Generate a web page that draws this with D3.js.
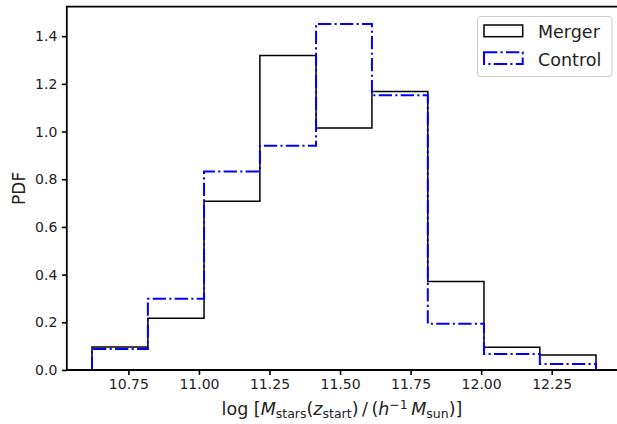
<!DOCTYPE html>
<html>
<head>
<meta charset="utf-8">
<script src="https://cdn.jsdelivr.net/npm/d3@7"></script>
<style>
html,body{margin:0;padding:0;background:#fff;}
svg{display:block;font-family:"DejaVu Sans",sans-serif;}
</style>
</head>
<body>
<svg id="chart" width="617" height="424"></svg>
<script>
const binEdges = [10.621, 10.819, 11.018, 11.216, 11.415, 11.613, 11.811, 12.010, 12.208, 12.407];
const mergerPDF = [0.0966, 0.217, 0.708, 1.319, 1.015, 1.168, 0.371, 0.095, 0.063];
const controlPDF = [0.088, 0.299, 0.832, 0.940, 1.451, 1.152, 0.194, 0.067, 0.025];
const xTicks = [10.75, 11.00, 11.25, 11.50, 11.75, 12.00, 12.25];
const yTicks = [0.0, 0.2, 0.4, 0.6, 0.8, 1.0, 1.2, 1.4];
const seriesNames = ["Merger", "Control"];

const svg = d3.select("#chart");
const L = 66.8, R = 621.2, T = 6.7, B = 370;
const xr = binEdges[binEdges.length-1] - binEdges[0];
const x = d3.scaleLinear().domain([binEdges[0] - 0.05*xr, binEdges[binEdges.length-1] + 0.05*xr]).range([L, R]);
const ymax = Math.max(d3.max(mergerPDF), d3.max(controlPDF)) * 1.05;
const y = d3.scaleLinear().domain([0, ymax]).range([B, T]);

function stepPath(vals) {
  const p = d3.path();
  p.moveTo(x(binEdges[0]), y(0));
  vals.forEach((v, i) => {
    p.lineTo(x(binEdges[i]), y(v));
    p.lineTo(x(binEdges[i+1]), y(v));
  });
  p.lineTo(x(binEdges[binEdges.length-1]), y(0));
  return p.toString();
}

const dash = "13.3,3.3,2.1,3.3";

const plot = svg.append("g");
plot.append("path").attr("d", stepPath(mergerPDF))
  .attr("fill", "none").attr("stroke", "#000").attr("stroke-width", 1.5);
plot.append("path").attr("d", stepPath(controlPDF))
  .attr("fill", "none").attr("stroke", "#0000ff").attr("stroke-width", 2)
  .attr("stroke-dasharray", dash);

// axes
const xAxis = d3.axisBottom(x).tickValues(xTicks).tickFormat(d3.format(".2f")).tickSizeOuter(0).tickSize(4.9).tickPadding(4.6);
const yAxis = d3.axisLeft(y).tickValues(yTicks).tickFormat(d3.format(".1f")).tickSizeOuter(0).tickSize(4.9).tickPadding(4.6);

const gx = svg.append("g").attr("transform", `translate(0,${B})`).call(xAxis);
const gy = svg.append("g").attr("transform", `translate(${L},0)`).call(yAxis);
[gx, gy].forEach(g => {
  g.attr("font-size", null).attr("font-family", null);
  g.select(".domain").remove();
  g.selectAll(".tick line").attr("stroke", "#000").attr("stroke-width", 1.6);
  g.selectAll(".tick text").attr("fill", "#222").style("font-size", "14px").style("font-family", "DejaVu Sans");
});

// spines
svg.append("line").attr("x1", L).attr("x2", L).attr("y1", T).attr("y2", B).attr("stroke", "#000").attr("stroke-width", 1.8);
svg.append("line").attr("x1", L-0.9).attr("x2", R).attr("y1", B).attr("y2", B).attr("stroke", "#000").attr("stroke-width", 1.8);
svg.append("line").attr("x1", L-0.9).attr("x2", R).attr("y1", T).attr("y2", T).attr("stroke", "#000").attr("stroke-width", 1.8);
svg.append("line").attr("x1", R).attr("x2", R).attr("y1", T).attr("y2", B).attr("stroke", "#000").attr("stroke-width", 1.8);

// y label
svg.append("text").attr("transform", `translate(24.5,${(T+B)/2}) rotate(-90)`)
  .attr("text-anchor", "middle").style("font-size", "17px").attr("fill", "#222").text("PDF");

// x label
const xl = svg.append("text").attr("x", (L+R)/2 - 2).attr("y", 415).attr("text-anchor", "middle")
  .style("font-size", "17.5px").attr("fill", "#222");
xl.append("tspan").text("log [");
xl.append("tspan").style("font-style", "italic").text("M");
xl.append("tspan").attr("dy", 3.2).style("font-size", "12.5px").text("stars");
xl.append("tspan").attr("dy", -3.2).text("(");
xl.append("tspan").style("font-style", "italic").text("z");
xl.append("tspan").attr("dy", 3.2).style("font-size", "12.5px").text("start");
xl.append("tspan").attr("dy", -3.2).text(")\u2009/\u2009(");
xl.append("tspan").style("font-style", "italic").text("h");
xl.append("tspan").attr("dy", -6.5).style("font-size", "12.5px").text("\u22121");
xl.append("tspan").attr("dy", 6.5).text("\u2009");
xl.append("tspan").style("font-style", "italic").text("M");
xl.append("tspan").attr("dy", 3.2).style("font-size", "12.5px").text("sun");
xl.append("tspan").attr("dy", -3.2).text(")]");

// legend
const lg = svg.append("g");
lg.append("rect").attr("x", 477.5).attr("y", 16.5).attr("width", 134.5).attr("height", 60)
  .attr("rx", 3).attr("fill", "#fff").attr("fill-opacity", 0.8).attr("stroke", "#cccccc").attr("stroke-width", 1);
const legendStyles = [
  {stroke: "#000", sw: 1.5, dash: null, py: 25, ty: 38.3},
  {stroke: "#0000ff", sw: 2, dash: dash, py: 52.3, ty: 65.5}
];
seriesNames.forEach((name, i) => {
  const s = legendStyles[i];
  const r = lg.append("rect").attr("x", 484).attr("y", s.py).attr("width", 38.7).attr("height", 11.7)
    .attr("fill", "none").attr("stroke", s.stroke).attr("stroke-width", s.sw);
  if (s.dash) r.attr("stroke-dasharray", s.dash);
  lg.append("text").attr("x", 538).attr("y", s.ty).style("font-size", "17.5px").attr("fill", "#222").text(name);
});
</script>
</body>
</html>
